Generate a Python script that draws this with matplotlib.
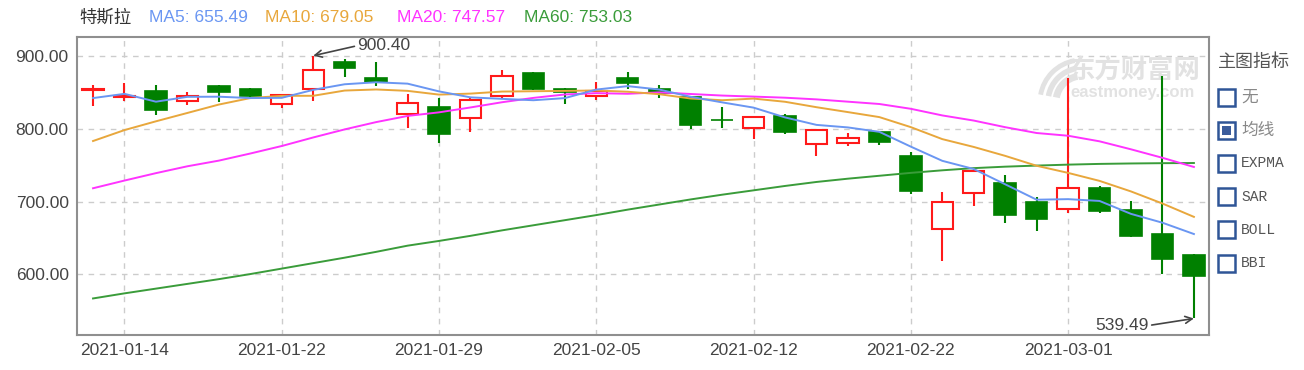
import matplotlib
matplotlib.use('Agg')

import matplotlib.pyplot as plt
from matplotlib.patches import Rectangle, Arc
from matplotlib.transforms import IdentityTransform

plt.rcParams['font.family'] = ['Liberation Sans', 'Noto Sans CJK SC', 'DejaVu Sans']

# ============================================================
# DATA
# ============================================================

dates = [
    '2021-01-13', '2021-01-14', '2021-01-15', '2021-01-19', '2021-01-20', '2021-01-21',
    '2021-01-22', '2021-01-25', '2021-01-26', '2021-01-27', '2021-01-28', '2021-01-29',
    '2021-02-01', '2021-02-02', '2021-02-03', '2021-02-04', '2021-02-05', '2021-02-08',
    '2021-02-09', '2021-02-10', '2021-02-11', '2021-02-12', '2021-02-16', '2021-02-17',
    '2021-02-18', '2021-02-19', '2021-02-22', '2021-02-23', '2021-02-24', '2021-02-25',
    '2021-02-26', '2021-03-01', '2021-03-02', '2021-03-03', '2021-03-04', '2021-03-05',
]

opens = [
    852.76, 843.39, 852.00, 837.80, 858.74, 855.00, 834.31, 855.00, 891.38, 870.35,
    820.00, 830.00, 814.29, 844.68, 877.02, 855.00, 845.00, 869.67, 855.12, 843.64,
    812.44, 801.26, 818.00, 779.09, 780.90, 795.00, 762.64, 662.13, 711.85, 726.15,
    700.00, 690.11, 718.28, 687.99, 655.80, 626.06,
]
highs = [
    860.47, 863.00, 859.90, 850.00, 859.50, 855.72, 848.00, 900.40, 895.90, 891.50,
    848.00, 842.41, 842.00, 880.50, 878.08, 856.50, 864.77, 877.77, 859.80, 844.82,
    829.88, 817.33, 821.00, 799.84, 794.69, 796.79, 768.50, 713.61, 745.00, 737.21,
    706.70, 870.00, 721.11, 700.70, 872.00, 627.84,
]
lows = [
    832.00, 838.75, 819.10, 833.00, 837.28, 841.42, 828.62, 838.82, 871.60, 858.66,
    801.00, 780.10, 795.56, 842.20, 853.06, 833.42, 838.97, 854.75, 841.75, 800.02,
    801.73, 785.33, 792.44, 762.01, 776.27, 777.37, 710.20, 619.00, 694.17, 670.58,
    659.51, 685.05, 685.00, 651.71, 600.00, 539.49,
]
closes = [
    854.41, 845.00, 826.16, 844.55, 850.45, 844.99, 846.64, 880.80, 883.09, 864.16,
    835.43, 793.53, 839.81, 872.79, 854.69, 849.99, 852.23, 863.42, 849.46, 804.82,
    811.66, 816.12, 796.22, 798.15, 787.38, 781.30, 714.50, 698.84, 742.02, 682.22,
    675.50, 718.43, 686.44, 653.20, 621.44, 597.95,
]

ma5 = [
    842.22, 848.01, 837.24, 843.91, 844.11, 842.23, 842.56, 853.49, 861.19, 863.94,
    862.02, 851.40, 843.20, 841.14, 839.25, 842.16, 853.90, 858.62, 853.96, 843.98,
    836.32, 829.10, 815.66, 805.39, 801.91, 795.83, 775.51, 756.03, 744.81, 723.78,
    702.62, 703.40, 700.92, 683.16, 671.00, 655.49,
]
ma10 = [
    783.24, 798.26, 810.31, 821.79, 833.32, 842.23, 845.29, 845.36, 852.55, 854.03,
    852.13, 846.98, 848.35, 851.17, 851.59, 852.09, 852.65, 850.91, 847.55, 841.62,
    839.24, 841.50, 837.14, 829.68, 822.95, 816.08, 802.30, 785.85, 775.10, 762.84,
    749.23, 739.46, 728.48, 713.98, 697.39, 679.05,
]
ma20 = [
    718.35, 728.94, 739.11, 748.54, 756.31, 766.07, 776.38, 788.12, 799.19, 809.21,
    817.68, 822.62, 829.33, 836.48, 842.46, 847.16, 848.97, 848.14, 850.05, 847.82,
    845.68, 844.24, 842.74, 840.42, 837.27, 834.08, 827.48, 818.38, 811.33, 802.23,
    794.23, 790.48, 782.81, 771.83, 760.17, 747.57,
]
ma60 = [
    567.0, 574.0, 580.5, 587.0, 593.5, 600.5, 608.0, 615.5, 623.0, 631.0,
    639.5, 646.0, 653.0, 660.5, 667.5, 674.5, 681.5, 689.0, 696.0, 703.0,
    709.5, 715.5, 721.5, 727.0, 731.5, 735.5, 739.5, 743.0, 746.0, 748.0,
    749.5, 750.8, 751.8, 752.4, 752.8, 753.03,
]

stock_name = '特斯拉'
y_ticks = [600, 700, 800, 900]
tick_every = 5
indicators = ['无', '均线', 'EXPMA', 'SAR', 'BOLL', 'BBI']
checked = '均线'

# ============================================================
# COLORS
# ============================================================

UP = '#ff1a1a'
DOWN = '#008000'
C_MA5 = '#6a96f2'
C_MA10 = '#e8a73c'
C_MA20 = '#ff33ff'
C_MA60 = '#3a9c3a'
TEXT = '#444444'
BOX = '#2f5597'
MARK = '#e2e2e2'

W, H = 1304, 370


def fx(x):
    return x / W


def fy(y):
    return 1 - y / H


# ============================================================
# FIGURE
# ============================================================

fig = plt.figure(figsize=(W / 100, H / 100), dpi=100, facecolor='white')
ax = fig.add_axes([fx(77), fy(335), (1209 - 77) / W, (335 - 37) / H])

ax.set_xlim(-0.51, len(dates) - 0.52)
ax.set_ylim(516.8, 926.1)

# ----------------------------------------------------
# CANDLES
# ----------------------------------------------------

width = 0.68

for i in range(len(dates)):
    o, h, l, c = opens[i], highs[i], lows[i], closes[i]
    top = max(o, c)
    bot = min(o, c)
    body = max(top - bot, 0.4)

    if c >= o:
        ax.vlines(i, top, h, color=UP, lw=1.5, zorder=3)
        ax.vlines(i, l, bot, color=UP, lw=1.5, zorder=3)
        ax.add_patch(Rectangle((i - width / 2, bot), width, body,
                               facecolor='white', edgecolor=UP, lw=1.5, zorder=3))
    else:
        ax.vlines(i, l, h, color=DOWN, lw=1.5, zorder=3)
        ax.add_patch(Rectangle((i - width / 2, bot), width, body,
                               facecolor=DOWN, edgecolor=DOWN, lw=1.2, zorder=3))

# ----------------------------------------------------
# MOVING AVERAGES
# ----------------------------------------------------

x = list(range(len(dates)))
ax.plot(x, ma60, color=C_MA60, lw=1.4, zorder=4)
ax.plot(x, ma20, color=C_MA20, lw=1.4, zorder=4)
ax.plot(x, ma10, color=C_MA10, lw=1.4, zorder=4)
ax.plot(x, ma5, color=C_MA5, lw=1.4, zorder=4)

# ----------------------------------------------------
# HIGH / LOW MARKERS
# ----------------------------------------------------

hi = highs.index(max(highs[:31]))
lo = lows.index(min(lows))

ax.annotate(f'{highs[hi]:.2f}', xy=(hi, highs[hi]), xytext=(44, 10),
            textcoords='offset pixels', ha='left', va='center',
            fontsize=12.5, color=TEXT, zorder=6,
            arrowprops=dict(arrowstyle='->', color='#444444', lw=1.2,
                            relpos=(0, 0.5), shrinkA=0, shrinkB=0))

ax.annotate(f'{lows[lo]:.2f}', xy=(lo, lows[lo]), xytext=(-45, -7),
            textcoords='offset pixels', ha='right', va='center',
            fontsize=12.5, color=TEXT, zorder=6,
            arrowprops=dict(arrowstyle='->', color='#444444', lw=1.2,
                            relpos=(1, 0.5), shrinkA=0, shrinkB=0))

# ----------------------------------------------------
# AXES STYLING
# ----------------------------------------------------

ax.set_yticks(y_ticks)
ax.set_yticklabels([f'{v:.2f}' for v in y_ticks])

xt = list(range(1, len(dates), tick_every))
ax.set_xticks(xt)
ax.set_xticklabels([dates[i] for i in xt])

ax.tick_params(length=0, labelsize=12.5, labelcolor=TEXT)
ax.tick_params(axis='y', pad=6)
ax.tick_params(axis='x', pad=6)

ax.set_axisbelow(True)
ax.grid(True, color='#cccccc', linestyle=(0, (4, 4)), lw=1)

for spine in ax.spines.values():
    spine.set_edgecolor('#8f8f8f')
    spine.set_linewidth(1.5)

# ----------------------------------------------------
# WATERMARK
# ----------------------------------------------------

# swoosh logo, drawn in pixel coordinates
for r, lw in [(26, 5), (34, 4), (42, 3.5)]:
    ax.add_patch(Arc((1082, H - 102), 2 * r, 2 * r, theta1=100, theta2=170,
                     color=MARK, lw=lw, transform=IdentityTransform(),
                     zorder=0.6, clip_on=False))

ax.text(fx(1068), fy(70), '东方财富网', transform=fig.transFigure,
        fontsize=19, fontweight='bold', color=MARK, va='center',
        family=['Noto Sans CJK SC'], zorder=0.6)
ax.text(fx(1070), fy(92), 'eastmoney.com', transform=fig.transFigure,
        fontsize=12, fontweight='bold', color=MARK, va='center', zorder=0.6)

# ============================================================
# HEADER
# ============================================================

fig.text(fx(79), fy(18), stock_name, fontsize=12.5, color='#333333', va='center')
fig.text(fx(149), fy(18), f'MA5: {ma5[-1]:.2f}', fontsize=12.5, color=C_MA5, va='center')
fig.text(fx(265), fy(18), f'MA10: {ma10[-1]:.2f}', fontsize=12.5, color=C_MA10, va='center')
fig.text(fx(397), fy(18), f'MA20: {ma20[-1]:.2f}', fontsize=12.5, color=C_MA20, va='center')
fig.text(fx(524), fy(18), f'MA60: {ma60[-1]:.2f}', fontsize=12.5, color=C_MA60, va='center')

# ============================================================
# RIGHT PANEL
# ============================================================

fig.text(fx(1218), fy(62), '主图指标', fontsize=13, color='#555555', va='center')

for k, name in enumerate(indicators):
    yc = 97 + k * 33.2
    fig.patches.append(Rectangle((fx(1218), fy(yc + 8.5)), 17 / W, 17 / H,
                                 facecolor='white', edgecolor=BOX, lw=1.8,
                                 transform=fig.transFigure, figure=fig))
    if name == checked:
        fig.patches.append(Rectangle((fx(1222), fy(yc + 4.5)), 9 / W, 9 / H,
                                     facecolor='#3b5c9c', edgecolor='none',
                                     transform=fig.transFigure, figure=fig))
    if name.isascii():
        fig.text(fx(1241), fy(yc), name, fontsize=10.5, color='#555555',
                 va='center', family=['Liberation Mono'])
    else:
        fig.text(fx(1241), fy(yc), name, fontsize=12, color='#888888', va='center')

plt.savefig('out.png', dpi=100, facecolor='white')
plt.close()
